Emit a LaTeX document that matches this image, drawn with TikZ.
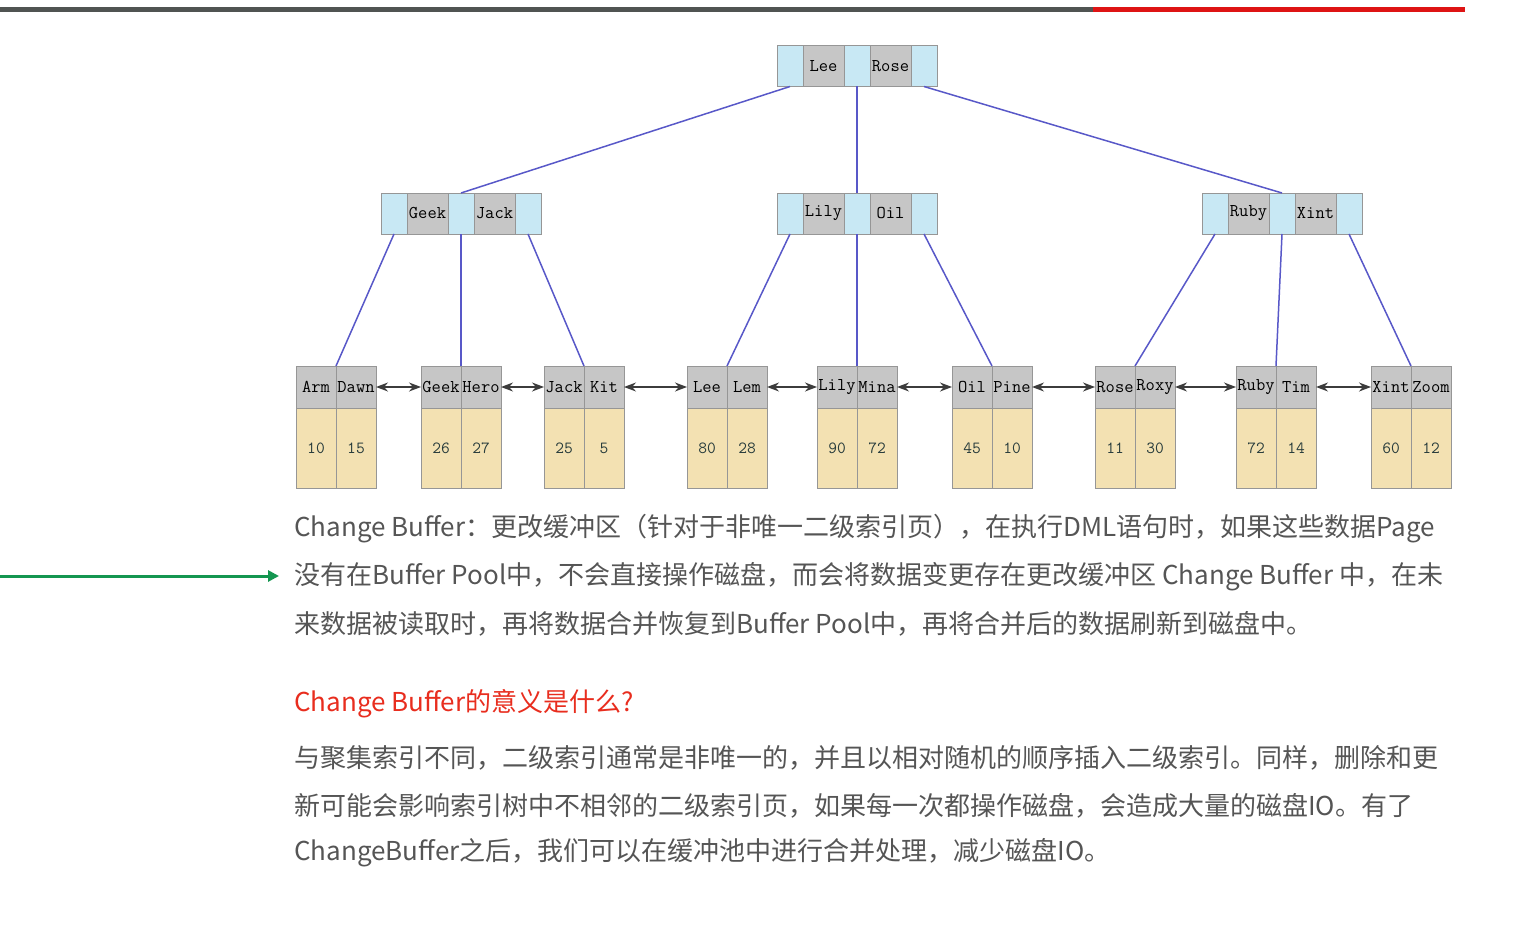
\documentclass[tikz,border=0pt]{standalone}
\usepackage{fontspec}
\setmainfont{Noto Sans CJK SC}
\usetikzlibrary{positioning,arrows.meta}

\definecolor{ptrblue}{RGB}{200,232,244}
\definecolor{keygray}{RGB}{198,198,198}
\definecolor{valyellow}{RGB}{243,225,178}
\definecolor{cellline}{RGB}{150,150,150}
\definecolor{edgeblue}{RGB}{88,88,200}
\definecolor{linkgray}{RGB}{60,60,60}
\definecolor{valtext}{RGB}{40,60,60}
\definecolor{bodytext}{RGB}{85,85,85}
\definecolor{headred}{RGB}{232,45,30}
\definecolor{arrowgreen}{RGB}{20,150,80}
\definecolor{bardark}{RGB}{80,84,82}
\definecolor{barred}{RGB}{222,20,20}

\begin{document}
\begin{tikzpicture}[x=1pt, y=-1pt,
    cell/.style={draw=cellline, line width=1pt, inner sep=0pt, outer sep=0pt},
    ptr/.style={cell, fill=ptrblue, minimum width=26pt, minimum height=41pt},
    keycell/.style={cell, fill=keygray, minimum width=41pt, minimum height=41pt,
        font=\fontsize{18}{18}\selectfont\ttfamily, text=black},
    lkey/.style={cell, fill=keygray, minimum width=40pt, minimum height=42pt,
        font=\fontsize{18}{18}\selectfont\ttfamily, text=black},
    lval/.style={cell, fill=valyellow, minimum width=40pt, minimum height=80pt,
        font=\fontsize{17}{17}\selectfont\ttfamily, text=valtext},
    treeedge/.style={draw=edgeblue, line width=1.5pt},
    leaflink/.style={draw=linkgray, line width=1.5pt,
        {Stealth[length=12pt,width=9pt]}-{Stealth[length=12pt,width=9pt]}},
    greenarrow/.style={draw=arrowgreen, line width=3pt, -{Triangle[length=11pt,width=11pt]}},
    para/.style={anchor=west, inner sep=0pt, text=bodytext, font=\fontsize{26}{30}\selectfont},
    heading/.style={para, text=headred}]

\useasboundingbox (0,0) rectangle (1540,931);

% progress bar on top
\fill[bardark] (0,7.5) rectangle (1093,12);
\fill[barred] (1093,7.5) rectangle (1465,12);

% inner pages: pointer | key | pointer | key | pointer
\foreach \name/\x/\y/\ka/\kb in {root/857/66/Lee/Rose, pg1/461/213.5/Geek/Jack,
    pg2/857/213.5/Lily/Oil, pg3/1282/213.5/Ruby/Xint} {
  \node[ptr] (\name-p2) at (\x,\y) {};
  \node[keycell, left=0pt of \name-p2] (\name-k1) {\ka};
  \node[ptr, left=0pt of \name-k1] (\name-p1) {};
  \node[keycell, right=0pt of \name-p2] (\name-k2) {\kb};
  \node[ptr, right=0pt of \name-k2] (\name-p3) {};
}

% leaf pages
\foreach \name/\x/\ka/\kb/\va/\vb in {leaf1/336/Arm/Dawn/10/15, leaf2/461/Geek/Hero/26/27,
    leaf3/584/Jack/Kit/25/5, leaf4/727/Lee/Lem/80/28, leaf5/857/Lily/Mina/90/72,
    leaf6/992/Oil/Pine/45/10, leaf7/1135/Rose/Roxy/11/30, leaf8/1276/Ruby/Tim/72/14,
    leaf9/1411/Xint/Zoom/60/12} {
  \node[lkey, anchor=north east] (\name-k1) at (\x,366) {\ka};
  \node[lkey, anchor=north west] (\name-k2) at (\x,366) {\kb};
  \node[lval, below=0pt of \name-k1] (\name-v1) {\va};
  \node[lval, below=0pt of \name-k2] (\name-v2) {\vb};
}

% tree edges
\draw[treeedge] (root-p1.south) -- (pg1-p2.north);
\draw[treeedge] (root-p2.south) -- (pg2-p2.north);
\draw[treeedge] (root-p3.south) -- (pg3-p2.north);
\foreach \pg/\la/\lb/\lc in {pg1/leaf1/leaf2/leaf3, pg2/leaf4/leaf5/leaf6, pg3/leaf7/leaf8/leaf9} {
  \draw[treeedge] (\pg-p1.south) -- (\la-k1.north east);
  \draw[treeedge] (\pg-p2.south) -- (\lb-k1.north east);
  \draw[treeedge] (\pg-p3.south) -- (\lc-k1.north east);
}

% links between leaves
\foreach \a/\b in {leaf1/leaf2, leaf2/leaf3, leaf3/leaf4, leaf4/leaf5,
    leaf5/leaf6, leaf6/leaf7, leaf7/leaf8, leaf8/leaf9}
  \draw[leaflink] (\a-k2.east) -- (\b-k1.west);

% green pointer on the left
\coordinate (gstart) at (0,576);
\coordinate (gend) at (279,576);
\draw[greenarrow] (gstart) -- (gend);

% text
\node[para] (t1) at (294,529) {Change Buffer：更改缓冲区（针对于非唯一二级索引页），在执行DML语句时，如果这些数据Page};
\node[para] (t2) at (294,577) {没有在Buffer Pool中，不会直接操作磁盘，而会将数据变更存在更改缓冲区 Change Buffer 中，在未};
\node[para] (t3) at (294,624) {来数据被读取时，再将数据合并恢复到Buffer Pool中，再将合并后的数据刷新到磁盘中。};
\node[heading] (h1) at (294,704) {Change Buffer的意义是什么?};
\node[para] (u1) at (294,758) {与聚集索引不同，二级索引通常是非唯一的，并且以相对随机的顺序插入二级索引。同样，删除和更};
\node[para] (u2) at (294,806) {新可能会影响索引树中不相邻的二级索引页，如果每一次都操作磁盘，会造成大量的磁盘IO。有了};
\node[para] (u3) at (294,853) {ChangeBuffer之后，我们可以在缓冲池中进行合并处理，减少磁盘IO。};
\end{tikzpicture}
\end{document}
